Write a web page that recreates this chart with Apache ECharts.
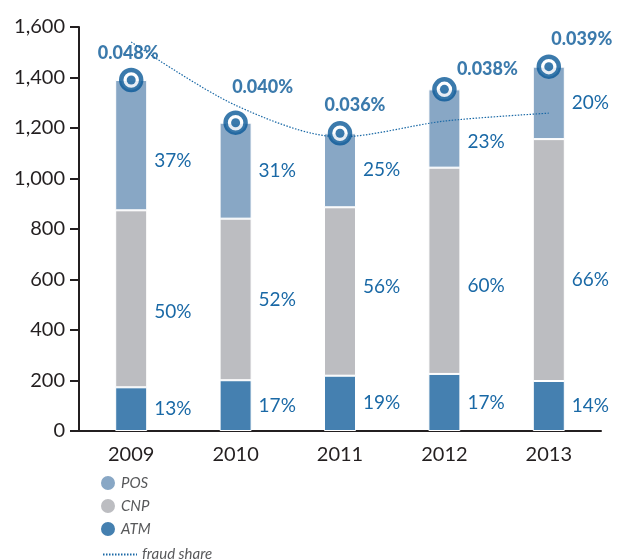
<!DOCTYPE html>
<html><head><meta charset="utf-8">
<script src="https://cdn.jsdelivr.net/npm/echarts@6/dist/echarts.min.js"></script>
<style>html,body{margin:0;padding:0;background:#fff}#c{width:626px;height:559px}</style>
</head><body><div id="c"></div>
<script>
const years = ['2009','2010','2011','2012','2013'];
const atm = [173, 201, 219, 226, 198];
const cnp = [701, 640, 667, 817, 958];
const pos = [516, 380, 293, 310, 287];
const atmPct = ['13%','17%','19%','17%','14%'];
const cnpPct = ['50%','52%','56%','60%','66%'];
const posPct = ['37%','31%','25%','23%','20%'];
const fraudShare = [0.048, 0.040, 0.036, 0.038, 0.039];
const fraudLabels = ['0.048%','0.040%','0.036%','0.038%','0.039%'];
const yTicks = [0, 200, 400, 600, 800, 1000, 1200, 1400, 1600];

// label nudges (styling only)
const cnpNudge = [13, 0, -5, 15, 20];
const posNudge = [16, 0, 0, 13, 0];
const fraudNudge = [[-3,-27],[27,-36],[15,-28],[43,-20],[33,-27]];

const totals = years.map((_, i) => atm[i] + cnp[i] + pos[i]);
const FONT = 'Lato';
const LBL = '#1a69a6';
const DARK = '#0a5997';

function pctLabels(vals, pcts, nudge) {
  return vals.map((v, i) => ({
    value: v,
    label: { show: true, position: 'right', distance: 7, offset: [0, nudge ? nudge[i] : 0],
      formatter: pcts[i], color: LBL, fontSize: 19, fontFamily: FONT }
  }));
}

const chart = echarts.init(document.getElementById('c'));
chart.setOption({
  animation: false,
  textStyle: { fontFamily: FONT },
  grid: { left: 79, right: 25, top: 27, bottom: 128 },
  legend: [
    { orient: 'vertical', left: 94, top: 469, itemWidth: 16, itemHeight: 16, itemGap: 5,
      icon: 'circle', data: ['POS','CNP','ATM'],
      textStyle: { fontStyle: 'italic', fontSize: 15, color: '#58595b', fontFamily: FONT } },
    { orient: 'vertical', left: 97, top: 542, itemWidth: 34, itemHeight: 14,
      itemStyle: { opacity: 0 },
      data: ['fraud share'],
      textStyle: { fontStyle: 'italic', fontSize: 15, color: '#58595b', fontFamily: FONT } }
  ],
  xAxis: {
    type: 'category', data: years,
    axisLine: { lineStyle: { color: '#231f20', width: 2 } },
    axisTick: { show: false },
    axisLabel: { color: '#231f20', fontSize: 20, margin: 14, fontFamily: FONT }
  },
  yAxis: [
    { type: 'value', min: yTicks[0], max: yTicks[yTicks.length-1], interval: 200,
      splitLine: { show: false },
      axisLine: { show: true, lineStyle: { color: '#231f20', width: 2 } },
      axisTick: { show: true, inside: false, length: 9, lineStyle: { color: '#231f20', width: 2 } },
      axisLabel: { color: '#231f20', fontSize: 20, margin: 14, fontFamily: FONT,
        formatter: v => v.toLocaleString('en-US') } },
    { type: 'value', min: -0.0012, max: 0.0499, show: false, splitLine: { show: false } }
  ],
  series: [
    { name: 'ATM', type: 'bar', stack: 't', barWidth: 32,
      itemStyle: { color: '#4580b0', borderColor: '#fff', borderWidth: 1 },
      data: pctLabels(atm, atmPct) },
    { name: 'CNP', type: 'bar', stack: 't', barWidth: 32,
      itemStyle: { color: '#bcbdc1', borderColor: '#fff', borderWidth: 1 },
      data: pctLabels(cnp, cnpPct, cnpNudge) },
    { name: 'POS', type: 'bar', stack: 't', barWidth: 32,
      itemStyle: { color: '#88a7c5', borderColor: '#fff', borderWidth: 1 },
      data: pctLabels(pos, posPct, posNudge) },
    { name: 'fraud share', type: 'line', yAxisIndex: 1, smooth: 0.3,
      symbol: 'none', data: fraudShare, z: 4,
      lineStyle: { color: '#1a69a6', width: 1.2, type: [1.5, 1.5] },
      itemStyle: { color: '#1a69a6' } },
    { name: 'marker', type: 'scatter', symbol: 'circle', symbolSize: 20, z: 5,
      itemStyle: { color: '#fff', borderColor: DARK, borderWidth: 4.5 },
      data: totals.map((t, i) => ({ value: t,
        label: { show: true, position: 'inside', offset: fraudNudge[i], formatter: fraudLabels[i],
          color: DARK, fontSize: 18, fontWeight: 900, fontFamily: FONT } })) },
    { name: 'dot', type: 'scatter', symbol: 'circle', symbolSize: 9, z: 6,
      itemStyle: { color: DARK }, data: totals }
  ]
});
</script></body></html>
